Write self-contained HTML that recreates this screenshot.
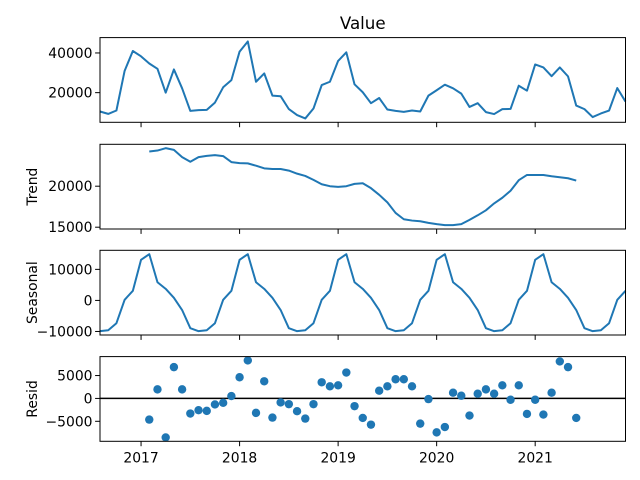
<!DOCTYPE html>
<html><head><meta charset="utf-8">
<style>
html,body{margin:0;padding:0;background:#fff;}
svg{display:block;font-family:"DejaVu Sans","Liberation Sans",sans-serif;}
</style></head>
<body>
<svg id="chart" width="640" height="480" viewBox="0 0 640 480" xmlns="http://www.w3.org/2000/svg"></svg>
<script>
const startYear = 2016, startMonth = 7; // Aug 2016 (0-based month)
const observed = [10500,9300,11000,31000,41000,38300,34700,32000,20000,31700,22200,10800,11200,11300,15000,22700,26300,40700,45800,25500,29700,18500,18200,11700,8700,7000,12000,23800,25500,36000,40300,24200,20200,14700,17300,11500,10800,10300,11000,10500,18500,21200,24000,22200,19500,12800,14700,10200,9200,11700,11800,23500,21000,34200,32700,28300,32700,28200,13500,11700,7700,9500,11000,22300,15500];
const trendStart = 6;
const trend = [24230,24350,24640,24430,23550,22980,23550,23700,23790,23670,22940,22820,22780,22500,22180,22100,22100,21900,21530,21250,20770,20240,20000,19920,20000,20280,20360,19760,18950,18030,16740,15970,15810,15730,15530,15370,15250,15250,15370,15890,16450,17060,17900,18590,19440,20730,21370,21370,21370,21210,21090,20970,20690];
const seasonalPattern = [-9900,-9600,-7340,200,3090,13090,14900,5850,3720,850,-3090,-8940];
const residStart = 6;
const resid = [-4630,1980,-8530,6840,1980,-3300,-2570,-2720,-1320,-960,510,4630,8300,-3160,3750,-4190,-880,-1250,-2790,-4410,-1250,3530,2650,2870,5660,-1690,-4260,-5730,1690,2650,4190,4190,2650,-5510,-150,-7420,-6250,1250,590,-3750,1030,1980,1030,2870,-290,2870,-3380,-290,-3530,1250,8090,6840,-4260];
const xTickYears = [2017,2018,2019,2020,2021];
const ticksObs = [20000,40000];
const ticksTrend = [15000,20000];
const ticksSeas = [-10000,0,10000];
const ticksResid = [-5000,0,5000];

const NS="http://www.w3.org/2000/svg";
const svg=document.getElementById('chart');
const L=100,R=625.5;
const n=observed.length;
function monthIdx(y,m){return (y-startYear)*12+(m-startMonth);}
function xs(i){return L+(R-L)*i/(n-1);}
function mk(tag,attrs,parent){const e=document.createElementNS(NS,tag);for(const k in attrs)e.setAttribute(k,attrs[k]);(parent||svg).appendChild(e);return e;}
function lims(arr){const mn=Math.min(...arr),mx=Math.max(...arr),p=(mx-mn)*0.05;return [mn-p,mx+p];}
const seasonal=[];for(let i=0;i<n;i++)seasonal.push(seasonalPattern[i%12]);

const panels=[
 {name:'observed',top:37.6,vals:observed,start:0,ticks:ticksObs,label:null},
 {name:'trend',top:144.3,vals:trend,start:trendStart,ticks:ticksTrend,label:'Trend'},
 {name:'seasonal',top:250.3,vals:seasonal,start:0,ticks:ticksSeas,label:'Seasonal'},
 {name:'resid',top:356.6,vals:resid,start:residStart,ticks:ticksResid,label:'Resid',scatter:true}
];
const H=84.7;
panels.forEach((p,pi)=>{
  const [lo,hi]=lims(p.vals);
  const ys=v=>p.top+H-(v-lo)/(hi-lo)*H;
  const g=mk('g',{});
  
  
  if(p.scatter){
    const zl=mk('line',{x1:L,x2:R,y1:ys(0),y2:ys(0),stroke:'#000','stroke-width':1.5},g);
    
    
    p.vals.forEach((v,k)=>{
      const c=mk('circle',{cx:xs(p.start+k),cy:ys(v),r:4.2,fill:'#1f77b4'},g);
      
      
    });
  } else {
    const pts=p.vals.map((v,k)=>xs(p.start+k).toFixed(2)+','+ys(v).toFixed(2)).join(' ');
    const pl=mk('polyline',{points:pts,fill:'none',stroke:'#1f77b4','stroke-width':2,'stroke-linejoin':'round'},g);
    
    
  }
  const fr=mk('rect',{x:L,y:p.top,width:R-L,height:H,fill:'none',stroke:'#000','stroke-width':1},g);
  
  
  p.ticks.forEach(t=>{
    const y=ys(t);
    mk('line',{x1:L-4.9,x2:L,y1:y,y2:y,stroke:'#000','stroke-width':1},g);
    const tx=mk('text',{x:L-7.5,y:y+5,'text-anchor':'end','font-size':13.9,fill:'#000'},g);
    tx.textContent=t<0?'\u2212'+Math.abs(t):String(t);
    
    
  });
  xTickYears.forEach(yr=>{
    const x=xs(monthIdx(yr,0));
    mk('line',{x1:x,x2:x,y1:p.top+H,y2:p.top+H+4.9,stroke:'#000','stroke-width':1},g);
    if(pi===3){
      const tx=mk('text',{x:x,y:p.top+H+21,'text-anchor':'middle','font-size':13.9,fill:'#000'},g);
      tx.textContent=String(yr);
      
      
    }
  });
  if(p.label){
    const cy=p.top+H/2;
    const tx=mk('text',{x:0,y:0,'text-anchor':'middle','font-size':13.9,fill:'#000',transform:'translate(37,'+cy+') rotate(-90)'},g);
    tx.textContent=p.label;
    
    
  }
});
const title=mk('text',{x:(L+R)/2,y:29,'text-anchor':'middle','font-size':16.7,fill:'#000'});
title.textContent='Value';


</script>
</body></html>
